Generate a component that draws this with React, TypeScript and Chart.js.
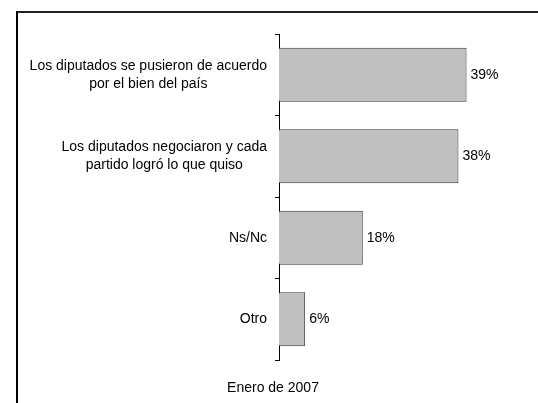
import React, { useEffect, useRef } from "react";
import { Chart, registerables } from "chart.js";

Chart.register(...registerables);

const categories: (string | string[])[] = [
  ["Los diputados se pusieron de acuerdo", "por el bien del país"],
  ["Los diputados negociaron y cada", "partido logró lo que quiso"],
  "Ns/Nc",
  "Otro",
];
const values = [39.4, 37.7, 17.6, 5.5];
const valueLabels = ["39%", "38%", "18%", "6%"];
const footerText = "Enero de 2007";

const FONT = "'Liberation Sans', Arial, sans-serif";

export default function App() {
  const ref = useRef<HTMLCanvasElement>(null);
  useEffect(() => {
    if (!ref.current) return;
    const labelPlugin = {
      id: "extras",
      afterDatasetsDraw(chart: any) {
        const ctx = chart.ctx;
        const meta = chart.getDatasetMeta(0);
        const yScale = chart.scales.y;
        ctx.save();
        ctx.font = `14px ${FONT}`;
        ctx.fillStyle = "#000";
        ctx.textBaseline = "middle";
        // value labels
        ctx.textAlign = "left";
        meta.data.forEach((bar: any, i: number) => {
          ctx.fillText(valueLabels[i], bar.x + 4, bar.y);
        });
        // category labels: block right-aligned, lines centered within block
        const rightEdge = chart.chartArea.left - 12;
        const lineH = 18;
        categories.forEach((c, i) => {
          const lines = Array.isArray(c) ? c : [c];
          const maxW = Math.max(...lines.map((l) => ctx.measureText(l).width));
          const cx = rightEdge - maxW / 2;
          const cy = yScale.getPixelForValue(i);
          ctx.textAlign = "center";
          lines.forEach((l, j) => {
            const y = cy + (j - (lines.length - 1) / 2) * lineH;
            ctx.fillText(l, cx, y);
          });
        });
        ctx.textAlign = "center";
        ctx.fillText(footerText, 273, 388);
        ctx.restore();
      },
    };
    const chart = new Chart(ref.current, {
      type: "bar",
      data: {
        labels: categories,
        datasets: [
          {
            data: values,
            backgroundColor: "#C0C0C0",
            borderColor: "#333333",
            borderWidth: 1,
            barPercentage: 0.66,
            categoryPercentage: 1,
          },
        ],
      },
      options: {
        indexAxis: "y",
        animation: false,
        responsive: false,
        maintainAspectRatio: false,
        layout: { padding: { left: 0, right: 21, top: 34, bottom: 43 } },
        plugins: {
          legend: { display: false },
          tooltip: { enabled: false },
          title: { display: false },
        },
        scales: {
          x: { display: false, min: 0, max: 50 },
          y: {
            afterFit(scale: any) {
              scale.width = 279;
            },
            border: { display: true, color: "#000", width: 1 },
            grid: {
              display: true,
              drawOnChartArea: false,
              drawTicks: true,
              tickLength: 4,
              color: "#000",
              offset: true,
            },
            ticks: {
              display: false,
            },
          },
        },
      },
      plugins: [labelPlugin],
    });
    return () => chart.destroy();
  }, []);
  return (
    <div style={{ position: "absolute", left: 0, top: 0, width: 538, height: 403, background: "#fff", overflow: "hidden" }}>
      <div
        style={{
          position: "absolute",
          left: 16,
          top: 11,
          width: 600,
          height: 600,
          borderLeft: "2px solid #000",
          borderTop: "2px solid #222",
          boxSizing: "border-box",
        }}
      />
      <canvas ref={ref} width={538} height={403} style={{ position: "absolute", left: 0, top: 0 }} />
    </div>
  );
}
